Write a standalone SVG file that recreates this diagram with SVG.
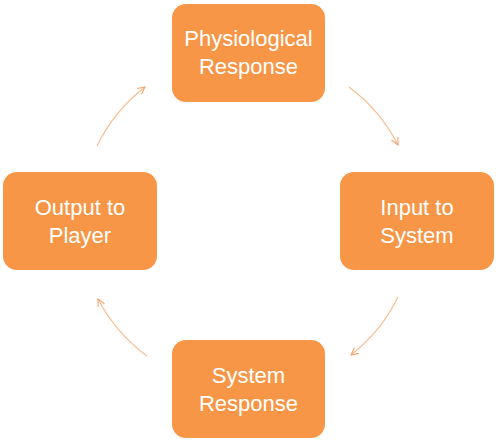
<svg xmlns="http://www.w3.org/2000/svg" width="500" height="446" viewBox="0 0 500 446">
  <style>
    .box { fill: #F79646; }
    .lbl { fill: #FFFFFF; font-family: "Liberation Sans", Arial, sans-serif; font-size: 22px; text-anchor: middle; }
    .arc { fill: none; stroke: #F8BE93; stroke-width: 1.2; marker-end: url(#ah); }
  </style>
  <defs>
    <marker id="ah" viewBox="0 0 10 10" refX="9" refY="5" markerWidth="9" markerHeight="9" markerUnits="userSpaceOnUse" orient="auto">
      <path d="M1,1 L9,5 L1,9" fill="none" stroke="#F4A468" stroke-width="1.2"/>
    </marker>
  </defs>
  <rect width="500" height="446" fill="#FFFFFF"/>
  <g id="connectors">
    <path class="arc" d="M349,87 A167,167 0 0,1 398,145"/>
    <path class="arc" d="M398,297 A167,167 0 0,1 351,355"/>
    <path class="arc" d="M147,356 A167,167 0 0,1 98,299"/>
    <path class="arc" d="M97,146 A167,167 0 0,1 145,87"/>
  </g>
  <g id="physiological">
    <rect class="box" x="172" y="4" width="153" height="98" rx="14"/>
    <text class="lbl" x="248.5" y="46">Physiological</text>
    <text class="lbl" x="248.5" y="74">Response</text>
  </g>
  <g id="input">
    <rect class="box" x="340" y="172" width="154" height="98" rx="14"/>
    <text class="lbl" x="417" y="215">Input to</text>
    <text class="lbl" x="417" y="243">System</text>
  </g>
  <g id="system">
    <rect class="box" x="172" y="340" width="153" height="98" rx="14"/>
    <text class="lbl" x="248.5" y="383">System</text>
    <text class="lbl" x="248.5" y="411">Response</text>
  </g>
  <g id="output">
    <rect class="box" x="3" y="172" width="154" height="98" rx="14"/>
    <text class="lbl" x="80" y="215">Output to</text>
    <text class="lbl" x="80" y="243">Player</text>
  </g>
</svg>
